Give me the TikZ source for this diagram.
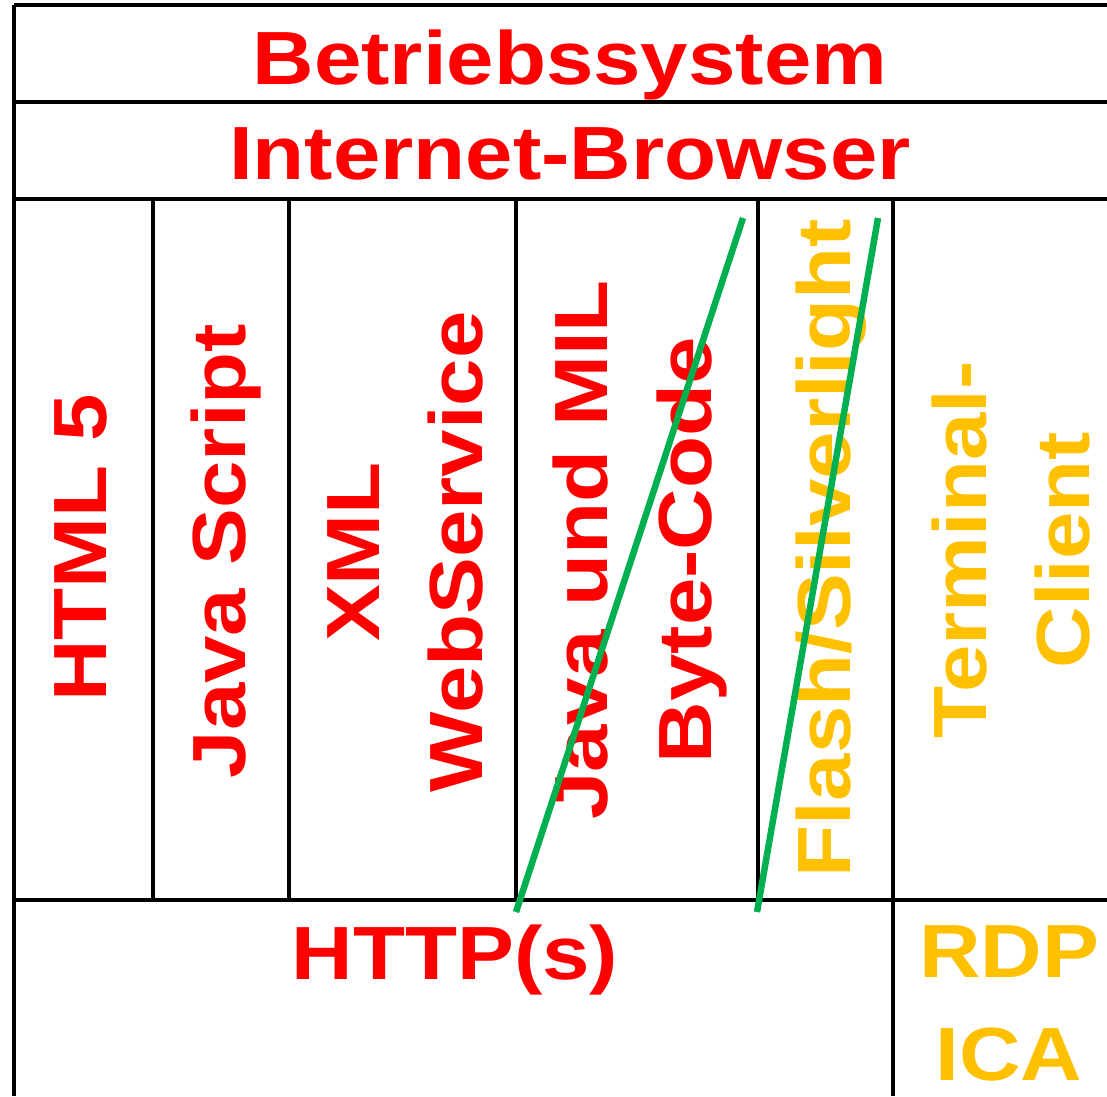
\documentclass[tikz,border=0pt]{standalone}
\usepackage{fontspec}
\newfontfamily\labfont{Liberation Sans}[FakeStretch=1.13]
\definecolor{lred}{HTML}{FF0000}
\definecolor{lyel}{HTML}{FFC000}
\definecolor{lgreen}{HTML}{00B050}
\tikzset{
  grid/.style={line width=3.2pt, black},
  lab/.style={inner sep=0pt, align=center, font=\labfont\bfseries\fontsize{75.4}{103.5}\selectfont},
  redlab/.style={lab, text=lred},
  yellab/.style={lab, text=lyel},
  vert/.style={rotate=90},
  strike/.style={line width=6.5pt, lgreen}
}
\begin{document}
\begin{tikzpicture}[x=1pt,y=-1pt]
\useasboundingbox (0,0) rectangle (1107,1096);
% grid lines
\draw[grid] (14,5) -- (1107,5);
\draw[grid] (14,102) -- (1107,102);
\draw[grid] (14,199) -- (1107,199);
\draw[grid] (14,900) -- (1107,900);
\draw[grid] (14,5) -- (14,1096);
\foreach \xx in {153,289,516,758} \draw[grid] (\xx,199) -- (\xx,900);
\draw[grid] (893,199) -- (893,1096);
% texts
\node[redlab] (os) at (570,64.5) {Betriebssystem};
\node[redlab] (br) at (570,153.5) {Internet-Browser};
\node[redlab,vert] (html) at (80.5,548) {HTML 5};
\node[redlab,vert] (js) at (226,551) {Java Script};
\node[redlab,vert] (xml) at (405.5,552) {XML\\WebService};
\node[redlab,vert] (java) at (640,550) {Java und MIL\\Byte-Code};
\node[yellab,vert] (flash) at (831,548) {Flash/Silverlight};
\node[yellab,vert] (term) at (1011,550) {Terminal-\\Client};
\node[redlab] (http) at (455,959.5) {HTTP(s)};
\node[yellab] (rdp) at (1009,1003.5) {RDP\\ICA};
% strike-through lines
\coordinate (s1a) at (743,218);
\coordinate (s1b) at (516,912);
\coordinate (s2a) at (878,218);
\coordinate (s2b) at (757,912);
\draw[strike] (s1a) -- (s1b);
\draw[strike] (s2a) -- (s2b);
\end{tikzpicture}
\end{document}
